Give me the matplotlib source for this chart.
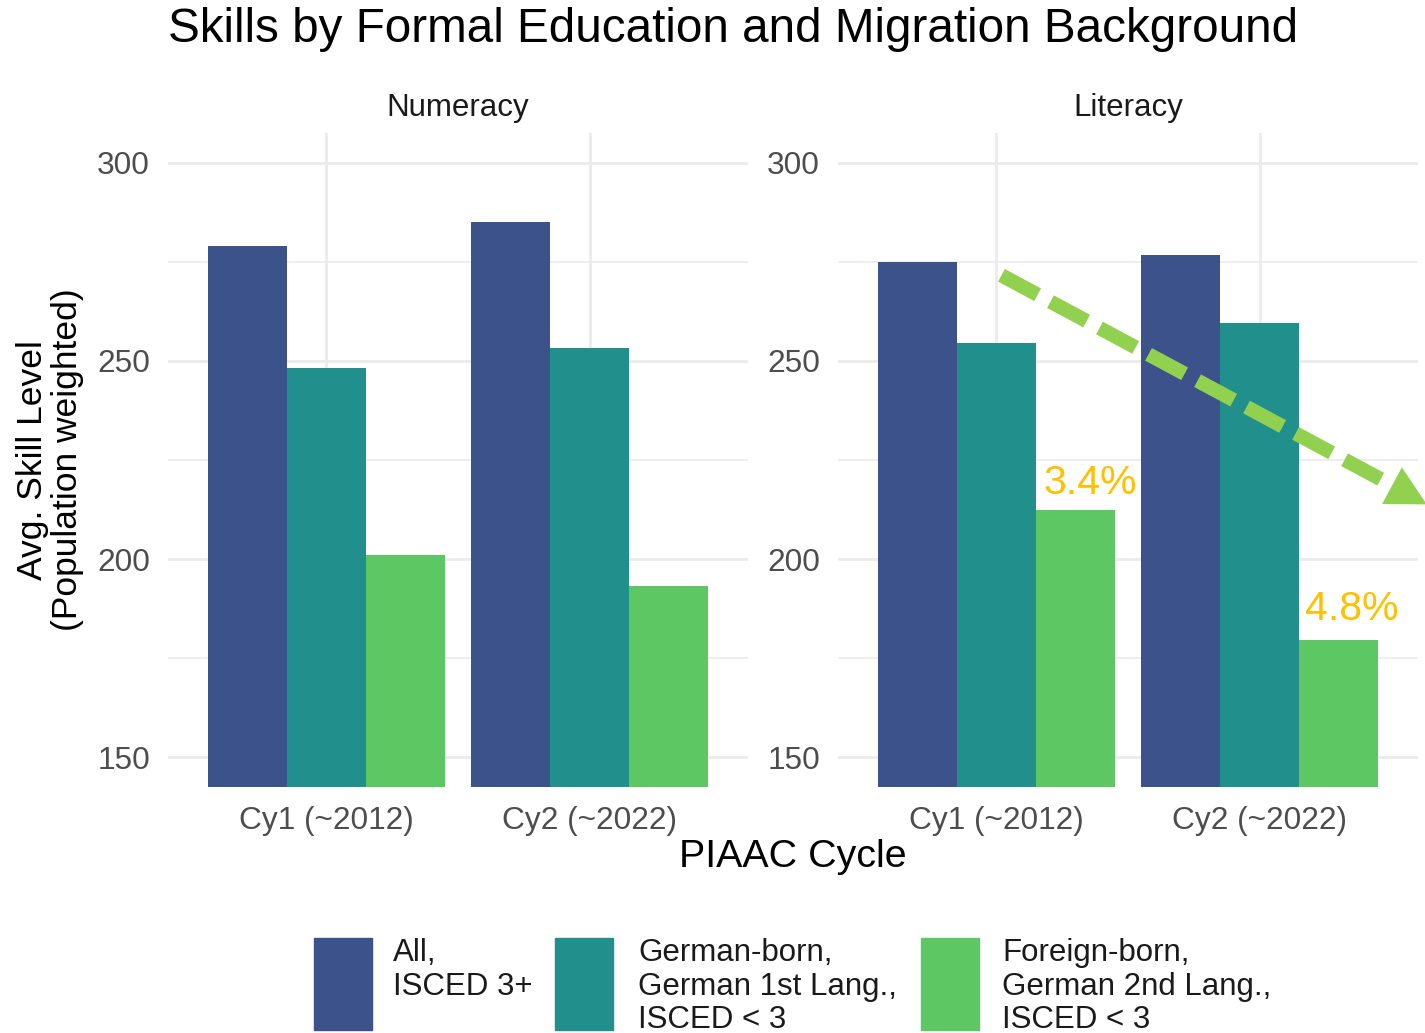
import matplotlib
matplotlib.use("Agg")
import matplotlib.pyplot as plt
from matplotlib.patches import Rectangle
import numpy as np

plt.rcParams['font.family'] = ['Liberation Sans', 'DejaVu Sans']

# ---- data ----
cycles = ["Cy1 (~2012)", "Cy2 (~2022)"]
groups = ["All,\nISCED 3+",
          "German-born,\nGerman 1st Lang.,\nISCED < 3",
          "Foreign-born,\nGerman 2nd Lang.,\nISCED < 3"]
colors = ["#3B528B", "#21908C", "#5DC863"]
numeracy = [[279.0, 285.1],   # All ISCED 3+
            [248.2, 253.3],   # German-born
            [201.0, 193.2]]   # Foreign-born
literacy = [[275.0, 276.8],
            [254.5, 259.6],
            [212.4, 179.5]]
facets = ["Numeracy", "Literacy"]
pct_labels = ["3.4%", "4.8%"]
yticks = [150, 200, 250, 300]
yminor = [175, 225, 275]

W, H = 1425, 1033
fig = plt.figure(figsize=(W / 100, H / 100), dpi=100)

def fx(px):
    return px / W

def fy(py):
    return 1 - py / H

panel_top, panel_bot = 133, 787
panels_x = [(168, 748), (838, 1418)]
axes = []
for (x0, x1), name, data in zip(panels_x, facets, [numeracy, literacy]):
    ax = fig.add_axes([fx(x0), fy(panel_bot), fx(x1 - x0), (panel_bot - panel_top) / H])
    ax.set_xlim(0.4, 2.6)
    ax.set_ylim(142.5, 307.5)
    for s in ax.spines.values():
        s.set_visible(False)
    for y in yminor:
        ax.axhline(y, color="#EBEBEB", lw=1.2, zorder=0)
    for y in yticks:
        ax.axhline(y, color="#EBEBEB", lw=2.0, zorder=0)
    for i in range(len(cycles)):
        ax.axvline(i + 1, color="#EBEBEB", lw=2.0, zorder=0)
    x = np.arange(1, len(cycles) + 1)
    w = 0.3
    for g in range(3):
        ax.bar(x + (g - 1) * w, np.array(data[g]) - 142.5, bottom=142.5, width=w,
               color=colors[g], zorder=2, linewidth=0)
    ax.set_xticks(x)
    ax.set_xticklabels(cycles, fontsize=22.8, color="#4D4D4D")
    ax.set_yticks(yticks)
    ax.set_yticklabels([str(t) for t in yticks], fontsize=22.8, color="#4D4D4D")
    ax.tick_params(length=0, pad=14)
    ax.tick_params(axis='y', pad=13)
    ax.set_title(name, fontsize=22.5, color="#1A1A1A", pad=12)
    axes.append(ax)

# annotations in literacy panel
axL = axes[1]
axL.text(1.357, literacy[2][0] + 4.0, pct_labels[0], color="#FFC000", fontsize=29.5,
         ha="center", va="baseline", zorder=5)
axL.text(2.349, literacy[2][1] + 5.1, pct_labels[1], color="#FFC000", fontsize=29.5,
         ha="center", va="baseline", zorder=5)
arrow_col = "#92D050"
arrow_start = (1.020, 271.6)
arrow_end = (2.575, 216.0)
arrow_tip = (2.633, 213.8)
axL.plot([arrow_start[0], arrow_end[0]], [arrow_start[1], arrow_end[1]],
         color=arrow_col, lw=10.3, ls=(0, (2.87, 1.02)),
         solid_capstyle="butt", dash_capstyle="butt", clip_on=False, zorder=6)
axL.annotate("", xy=arrow_tip, xytext=arrow_start,
             arrowprops=dict(arrowstyle="-|>,head_length=1.42,head_width=0.75",
                             color=arrow_col, lw=0, mutation_scale=20,
                             shrinkA=0, shrinkB=0),
             annotation_clip=False, zorder=7)

# title and axis titles
fig.text(fx(168), fy(29), "Skills by Formal Education and Migration Background",
         fontsize=34.3, color="black", ha="left", va="center")
fig.text(fx(793), fy(857), "PIAAC Cycle", fontsize=28.4, color="black",
         ha="center", va="center")
fig.text(fx(50), fy(460), "Avg. Skill Level\n(Population weighted)", fontsize=25.5,
         color="black", ha="center", va="center", rotation=90, linespacing=1.05)

# legend (manual)
key_x = [314, 555, 921]
text_x = [393, 638, 1002]
for kx, tx, lab, col in zip(key_x, text_x, groups, colors):
    fig.patches.append(Rectangle((fx(kx), fy(1030)), fx(58), 92 / H, color=col,
                                 transform=fig.transFigure, figure=fig))
    fig.text(fx(tx), fy(938), lab, fontsize=22.5, color="#1A1A1A", ha="left",
             va="top", linespacing=1.16)

fig.savefig("out.png", dpi=100)
